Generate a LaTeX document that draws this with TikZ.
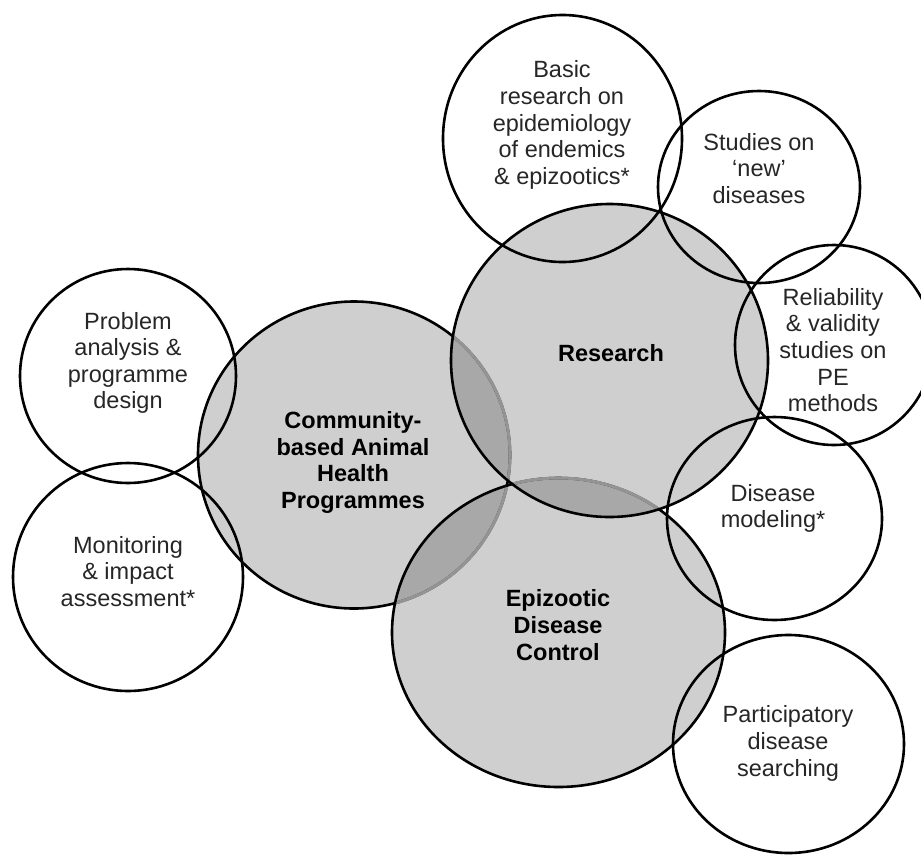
\documentclass[tikz,border=0pt]{standalone}
\usepackage{fontspec}
\setmainfont{Liberation Sans}
\begin{document}
\begin{tikzpicture}[x=1pt,y=-1pt,
  lbl/.style={font=\fontsize{23.5}{26.6}\selectfont, align=center, inner sep=0pt, text=black!85},
  blbl/.style={font=\fontsize{23.5}{26.6}\selectfont\bfseries, align=center, inner sep=0pt},
  edge/.style={line width=2.6pt, draw=black},
  hiddenedge/.style={line width=3.0pt, draw=black!42},
  shade/.style={fill=black, fill opacity=0.19},
  Cpath/.style={insert path={(354,455) ellipse [x radius=156pt, y radius=153.5pt]}},
  Rpath/.style={insert path={(609.5,360.5) ellipse [x radius=158.5pt, y radius=156.5pt]}},
  Epath/.style={insert path={(558.5,632.5) ellipse [x radius=166.5pt, y radius=154.5pt]}}]
\useasboundingbox (0,0) rectangle (921,855);
\fill[white] (0,0) rectangle (921,855);
% grey fills of the three main areas
\path[shade, Cpath];
\path[shade, Epath];
\path[shade, Rpath];
% borders, painted in order: community, epizootic, research
\path[edge, Cpath];
\begin{scope}
  \clip[Epath];
  \path[hiddenedge, Cpath];
\end{scope}
\path[edge, Epath];
\begin{scope}
  \clip[Rpath];
  \path[hiddenedge, Cpath];
  \path[hiddenedge, Epath];
\end{scope}
\path[edge, Rpath];
% outer activity circles
\draw[edge] (562.5,138.5) ellipse [x radius=119.5pt, y radius=123.5pt];
\draw[edge] (759,187) ellipse [x radius=101pt, y radius=96pt];
\draw[edge] (834,345) ellipse [x radius=99pt, y radius=100pt];
\draw[edge] (774.5,518.5) ellipse [x radius=107.5pt, y radius=101.5pt];
\draw[edge] (788.5,744) ellipse [x radius=115.5pt, y radius=109pt];
\draw[edge] (128,376) ellipse [x radius=108pt, y radius=107pt];
\draw[edge] (128,577) ellipse [x radius=115pt, y radius=114pt];
% labels
\node[blbl] (community) at (353,462.5) {Community-\\based Animal\\Health\\Programmes};
\node[blbl] (research) at (611,353) {Research};
\node[blbl] (epizootic) at (558,625) {Epizootic\\Disease\\Control};
\node[lbl] (basic) at (562,125) {Basic\\research on\\epidemiology\\of endemics\\\& epizootics*};
\node[lbl] (studies) at (759,168.5) {Studies on\\‘new’\\diseases};
\node[lbl] (reliability) at (833,350) {Reliability\\\& validity\\studies on\\PE\\methods};
\node[lbl] (modeling) at (773,508.5) {Disease\\modeling*};
\node[lbl] (searching) at (788,743.5) {Participatory\\disease\\searching};
\node[lbl] (problem) at (128,363) {Problem\\analysis \&\\programme\\design};
\node[lbl] (monitoring) at (128,571.5) {Monitoring\\\& impact\\assessment*};
\end{tikzpicture}
\end{document}
